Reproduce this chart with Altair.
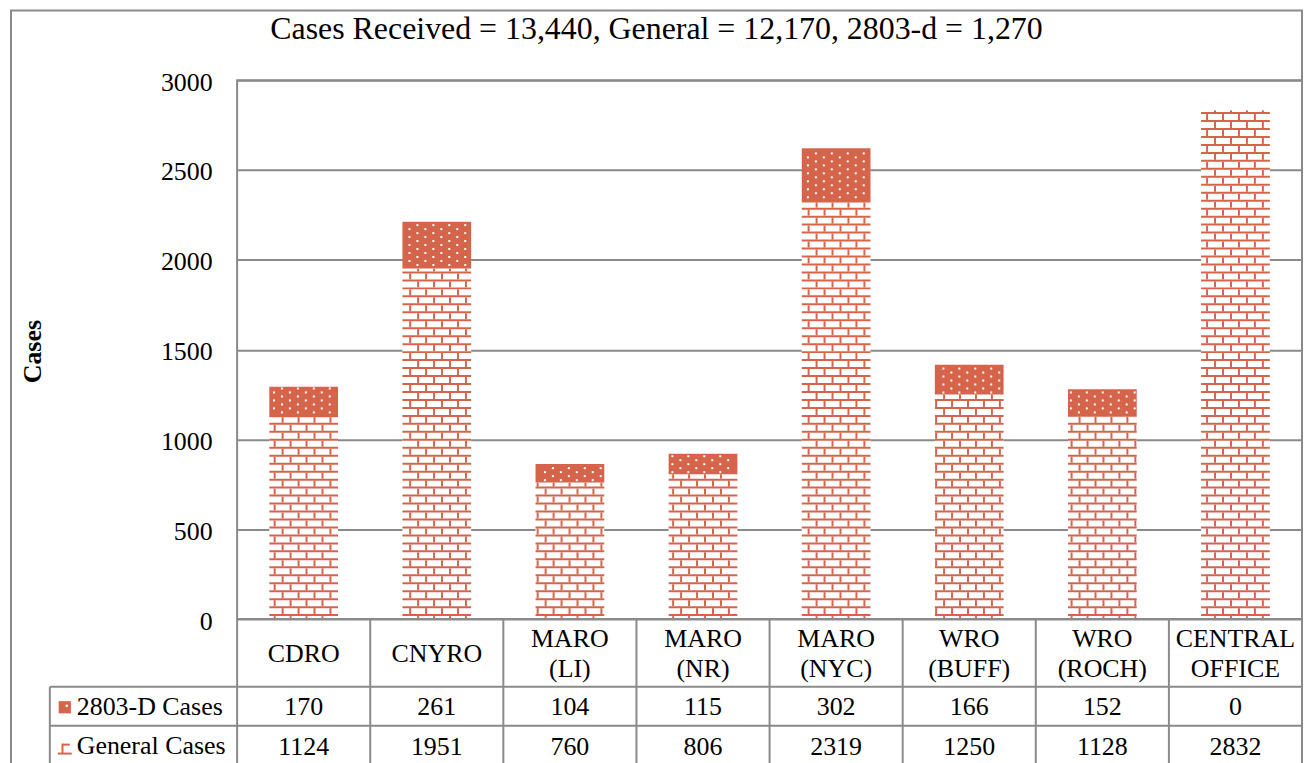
import altair as alt
import numpy as np
import pandas as pd

# ---------------- data ----------------
regions = ["CDRO", "CNYRO", "MARO (LI)", "MARO (NR)", "MARO (NYC)",
           "WRO (BUFF)", "WRO (ROCH)", "CENTRAL OFFICE"]
cases_2803 = [170, 261, 104, 115, 302, 166, 152, 0]
cases_general = [1124, 1951, 760, 806, 2319, 1250, 1128, 2832]
series_names = ["2803-D Cases", "General Cases"]
y_ticks = [0, 500, 1000, 1500, 2000, 2500, 3000]
title_text = "Cases Received = 13,440, General = 12,170, 2803-d = 1,270"
y_title = "Cases"

# ---------------- style ----------------
RED = "#D5644B"
GRAY = "#8A8A8A"
FONT = "Liberation Serif"
W, H = 1069, 541
YMAX = 3000
STEP = W / len(regions)
BARW = 69
P_IN = 1 - BARW / STEP
P_OUT = P_IN / 2
PXU = H / YMAX

df = pd.DataFrame({"region": regions, "general": cases_general, "d2803": cases_2803})
df["total"] = df["general"] + df["d2803"]

# -------- fill textures (brick / dots), derived from the values --------
brick_h, brick_v, dots = [], [], []
for i, (r, g, d) in enumerate(zip(regions, cases_general, cases_2803)):
    left = P_OUT * STEP + i * STEP
    gtop = g * PXU
    ttop = (g + d) * PXU
    k = 0
    while 4 + 8 * k - 1 < gtop:
        c = 4 + 8 * k
        brick_h.append({"region": r, "y0": (c - 1) / PXU, "y1": min(c + 1, gtop) / PXU})
        k += 1
    k = 0
    while 8 * k - 3 < gtop:
        lo = max(8 * k - 3, 0)
        hi = min(8 * k + 3, gtop)
        if hi > lo:
            phase = 5.7 if k % 2 == 0 else 13.7
            x = (phase - left) % 16
            while x < BARW - 1:
                if x > 1:
                    brick_v.append({"region": r, "dx": x, "y0": lo / PXU, "y1": hi / PXU})
                x += 16
        k += 1
    k = 0
    while 3.5 + 4 * k < ttop - 1.5:
        h = 3.5 + 4 * k
        if h > gtop + 1.5:
            phase = 5 if k % 2 == 0 else 13
            x = (phase - left) % 16
            while x < BARW - 1.5:
                if x > 1.5:
                    dots.append({"region": r, "dx": x, "h": h / PXU})
                x += 16
        k += 1

XS = alt.Scale(domain=regions, paddingInner=P_IN, paddingOuter=P_OUT)
YS = alt.Scale(domain=[0, YMAX], nice=False, zero=True)
YAX = alt.Axis(values=y_ticks, title=None, grid=True, gridColor=GRAY, gridWidth=2,
               domain=False, ticks=False, labelFont=FONT, labelFontSize=26, format="d",
               labelColor="black", labelPadding=25, labelOffset=2)


def X():
    return alt.X("region:N", scale=XS, axis=None)


def Y(f):
    return alt.Y(f, type="quantitative", scale=YS, axis=YAX)


one = pd.DataFrame({"k": [0]})

general_bar = alt.Chart(df).mark_bar(fill="white").encode(x=X(), y=Y("general"))
d_bar = alt.Chart(df).mark_bar(fill=RED).encode(x=X(), y=Y("general"), y2="total")
bh = alt.Chart(pd.DataFrame(brick_h)).mark_bar(fill=RED).encode(x=X(), y=Y("y0"), y2="y1")
bv = alt.Chart(pd.DataFrame(brick_v)).mark_rule(color=RED, strokeWidth=2).encode(
    x=X(), xOffset=alt.XOffset("dx:Q", scale=None), y=Y("y0"), y2="y1")
dt = alt.Chart(pd.DataFrame(dots)).mark_square(size=4, color="white", opacity=1).encode(
    x=X(), xOffset=alt.XOffset("dx:Q", scale=None), y=Y("h"))

zero_line = alt.Chart(one).mark_rule(color=GRAY, strokeWidth=2).encode(
    x=alt.value(0), x2=alt.value(W), y=alt.value(H))
h1 = alt.Chart(one).mark_rule(color=GRAY, strokeWidth=2).encode(
    x=alt.value(-188), x2=alt.value(W), y=alt.value(609))
h2 = alt.Chart(one).mark_rule(color=GRAY, strokeWidth=2).encode(
    x=alt.value(-188), x2=alt.value(W), y=alt.value(648))
vleft = alt.Chart(one).mark_rule(color=GRAY, strokeWidth=2).encode(
    x=alt.value(-188), y=alt.value(609), y2=alt.value(700))
vcols = alt.Chart(df).mark_rule(color=GRAY, strokeWidth=2, xOffset=-STEP / 2).encode(
    x=X(), y=alt.value(H), y2=alt.value(700))
frame = alt.Chart(one).mark_rect(fillOpacity=0, stroke=GRAY, strokeWidth=2).encode(
    x=alt.value(-227), x2=alt.value(W), y=alt.value(-70), y2=alt.value(700))

title = alt.Chart(one).mark_text(font=FONT, fontSize=32, align="center",
                                 baseline="alphabetic", color="black").encode(
    x=alt.value(421), y=alt.value(-41.5), text=alt.value(title_text))
ytitle = alt.Chart(one).mark_text(font=FONT, fontSize=26, fontWeight="bold", angle=270,
                                  align="center", baseline="middle", color="black").encode(
    x=alt.value(-205), y=alt.value(272.5), text=alt.value(y_title))

hdr_style = dict(font=FONT, fontSize=26, lineBreak=" ", lineHeight=30,
                 align="center", baseline="middle", color="black")
header1 = alt.Chart(df).transform_filter("indexof(datum.region, ' ') < 0").mark_text(
    **hdr_style).encode(x=X(), y=alt.value(576), text="region:N")
header2 = alt.Chart(df).transform_filter("indexof(datum.region, ' ') >= 0").mark_text(
    **hdr_style).encode(x=X(), y=alt.value(561), text="region:N")
row_d = alt.Chart(df).mark_text(font=FONT, fontSize=26, align="center",
                                baseline="alphabetic", color="black").encode(
    x=X(), y=alt.value(637.5), text=alt.Text("d2803:Q", format="d"))
row_g = alt.Chart(df).mark_text(font=FONT, fontSize=26, align="center",
                                baseline="alphabetic", color="black").encode(
    x=X(), y=alt.value(677.5), text=alt.Text("general:Q", format="d"))
lab_d = alt.Chart(one).mark_text(font=FONT, fontSize=26, align="left",
                                 baseline="alphabetic", color="black").encode(
    x=alt.value(-161), y=alt.value(637), text=alt.value(series_names[0]))
lab_g = alt.Chart(one).mark_text(font=FONT, fontSize=26, align="left",
                                 baseline="alphabetic", color="black").encode(
    x=alt.value(-161), y=alt.value(676.5), text=alt.value(series_names[1]))
icon_d = alt.Chart(one).mark_square(size=150, color=RED, opacity=1).encode(
    x=alt.value(-173), y=alt.value(629.5))
icon_d_dot = alt.Chart(one).mark_square(size=5, color="white", opacity=1).encode(
    x=alt.value(-171), y=alt.value(628))
icon_g1 = alt.Chart(one).mark_rule(color=RED, strokeWidth=2).encode(
    x=alt.value(-180), x2=alt.value(-166), y=alt.value(676))
icon_g2 = alt.Chart(one).mark_rule(color=RED, strokeWidth=2).encode(
    x=alt.value(-175.3), y=alt.value(666), y2=alt.value(676))
icon_g3 = alt.Chart(one).mark_rule(color=RED, strokeWidth=2).encode(
    x=alt.value(-175.3), x2=alt.value(-168), y=alt.value(667))

chart = alt.layer(
    general_bar, d_bar, bh, bv, dt, zero_line, h1, h2, vleft, vcols, frame,
    title, ytitle, header1, header2, row_d, row_g, lab_d, lab_g,
    icon_d, icon_d_dot, icon_g1, icon_g2, icon_g3
).properties(
    width=W, height=H,
    autosize=alt.AutoSizeParams(type="none"),
    padding={"left": 230, "top": 71, "right": 2, "bottom": 143},
).configure_view(stroke=GRAY, strokeWidth=2)

chart.save("out.html", embed_options={"renderer": "svg", "actions": False})
